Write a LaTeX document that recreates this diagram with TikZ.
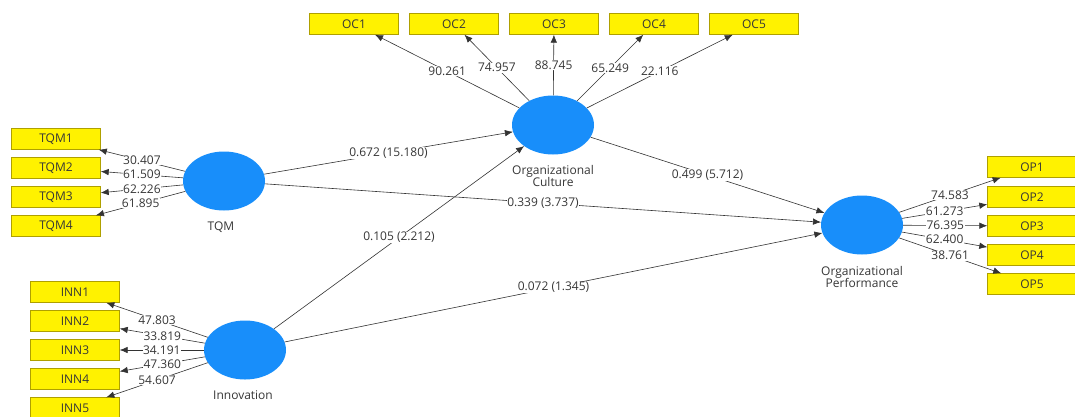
\documentclass[tikz,border=0pt]{standalone}
\usepackage{fontspec}
\setmainfont{Open Sans}
\usetikzlibrary{shapes.geometric,arrows.meta}

\definecolor{lvblue}{RGB}{24,142,250}
\definecolor{boxedge}{RGB}{175,160,0}
\definecolor{txtgray}{RGB}{55,55,55}

\begin{document}
\begin{tikzpicture}[x=1pt, y=-1pt, font=\fontsize{12}{14}\selectfont,
  lv/.style={ellipse, fill=lvblue, minimum width=82pt, minimum height=59pt, inner sep=0pt},
  ind/.style={draw=boxedge, fill=yellow, minimum width=89pt, minimum height=21pt, inner sep=0pt, text=txtgray},
  link/.style={draw=black!80, line width=0.6pt, -{Latex[length=8pt,width=6.5pt]}},
  val/.style={fill=white, inner sep=0.5pt, text=txtgray},
  lvname/.style={text=txtgray, align=center}]
\useasboundingbox (0,0) rectangle (1075,416);
\clip (0,0) rectangle (1075,416);
\fill[white] (0,0) rectangle (1075,416);

% latent variables
\node [lv] (oc) at (553,125) {};
\node [lv] (tqm) at (224,181) {};
\node [lv] (inn) at (245,350) {};
\node [lv] (op) at (862,225) {};
\node [lvname] at (553,176) {Organizational\\[-2pt]Culture};
\node [lvname] at (221,227) {TQM};
\node [lvname] at (243,395) {Innovation};
\node [lvname] at (862,277) {Organizational\\[-2pt]Performance};

% indicators
\node [ind] (oc1) at (354,24) {OC1};
\node [ind] (oc2) at (454,24) {OC2};
\node [ind] (oc3) at (554,24) {OC3};
\node [ind] (oc4) at (654,24) {OC4};
\node [ind] (oc5) at (754,24) {OC5};
\node [ind] (tqm1) at (56,139) {TQM1};
\node [ind] (tqm2) at (56,168) {TQM2};
\node [ind] (tqm3) at (56,197) {TQM3};
\node [ind] (tqm4) at (56,226) {TQM4};
\node [ind] (inn1) at (75,292) {INN1};
\node [ind] (inn2) at (75,321) {INN2};
\node [ind] (inn3) at (75,350) {INN3};
\node [ind] (inn4) at (75,379) {INN4};
\node [ind] (inn5) at (75,408) {INN5};
\node [ind] (op1) at (1032,167) {OP1};
\node [ind] (op2) at (1032,197) {OP2};
\node [ind] (op3) at (1032,226) {OP3};
\node [ind] (op4) at (1032,255) {OP4};
\node [ind] (op5) at (1032,284) {OP5};

% outer loadings
\draw [link] (oc) -- node [val] {90.261} (oc1);
\draw [link] (oc) -- node [val] {74.957} (oc2);
\draw [link] (oc) -- node [val] {88.745} (oc3);
\draw [link] (oc) -- node [val] {65.249} (oc4);
\draw [link] (oc) -- node [val] {22.116} (oc5);
\draw [link] (tqm) -- node [val] {30.407} (tqm1);
\draw [link] (tqm) -- node [val] {61.509} (tqm2);
\draw [link] (tqm) -- node [val] {62.226} (tqm3);
\draw [link] (tqm) -- node [val] {61.895} (tqm4);
\draw [link] (inn) -- node [val] {47.803} (inn1);
\draw [link] (inn) -- node [val] {33.819} (inn2);
\draw [link] (inn) -- node [val] {34.191} (inn3);
\draw [link] (inn) -- node [val] {47.360} (inn4);
\draw [link] (inn) -- node [val] {54.607} (inn5);
\draw [link] (op) -- node [val] {74.583} (op1);
\draw [link] (op) -- node [val] {61.273} (op2);
\draw [link] (op) -- node [val] {76.395} (op3);
\draw [link] (op) -- node [val] {62.400} (op4);
\draw [link] (op) -- node [val] {38.761} (op5);

% paths
\draw [link] (tqm) -- node [val] {0.672 (15.180)} (oc);
\draw [link] (tqm) -- node [val] {0.339 (3.737)} (op);
\draw [link] (inn) -- node [val] {0.105 (2.212)} (oc);
\draw [link] (inn) -- node [val] {0.072 (1.345)} (op);
\draw [link] (oc) -- node [val] {0.499 (5.712)} (op);
\end{tikzpicture}
\end{document}
